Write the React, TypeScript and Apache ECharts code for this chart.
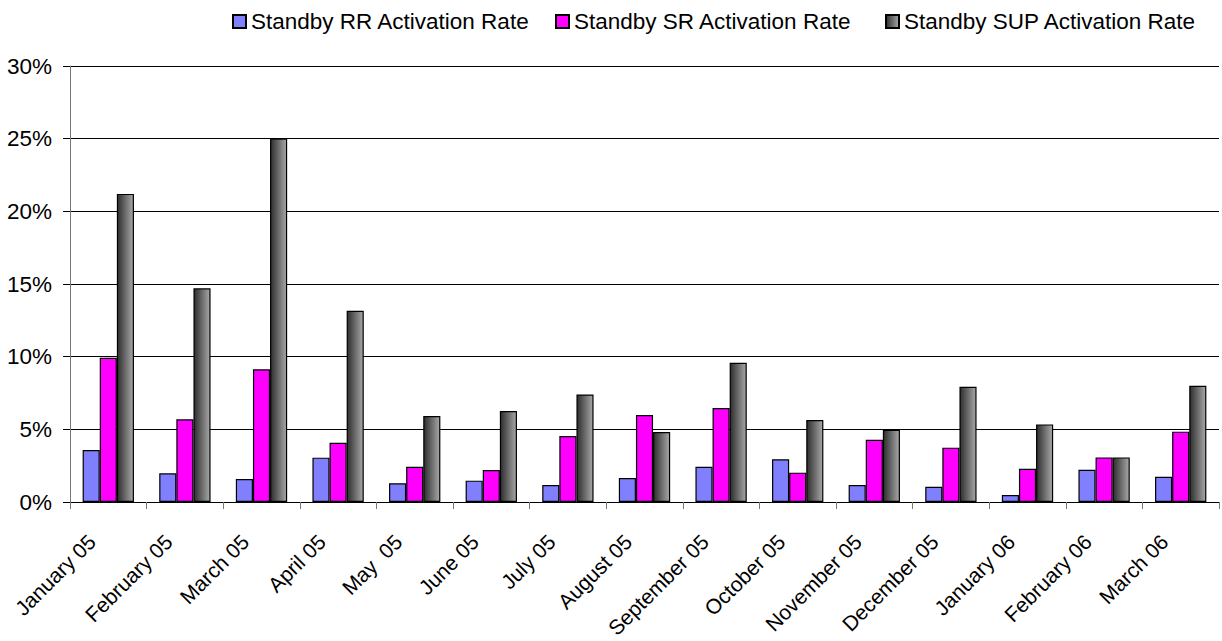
import React, { useEffect, useRef } from "react";
import * as echarts from "echarts";

const categories = [
  "January 05", "February 05", "March 05", "April 05", "May  05", "June 05", "July 05",
  "August 05", "September 05", "October 05", "November 05", "December 05",
  "January 06", "February 06", "March 06",
];
const rrRate = [3.58, 1.97, 1.58, 3.05, 1.29, 1.47, 1.17, 1.65, 2.43, 2.94, 1.17, 1.05, 0.48, 2.22, 1.74];
const srRate = [9.93, 5.69, 9.13, 4.08, 2.43, 2.2, 4.54, 5.98, 6.47, 2.02, 4.28, 3.74, 2.29, 3.07, 4.84];
const supRate = [21.2, 14.7, 25.0, 13.16, 5.92, 6.26, 7.4, 4.81, 9.58, 5.64, 4.97, 7.93, 5.34, 3.07, 8.0];
const seriesNames = [
  "Standby RR Activation Rate",
  "Standby SR Activation Rate",
  "Standby SUP Activation Rate",
];
const legendLefts = [227, 550, 880];

const FONT = "'Liberation Sans', Arial, sans-serif";

export default function App() {
  const ref = useRef<HTMLDivElement>(null);
  useEffect(() => {
    if (!ref.current) return;
    const chart = echarts.init(ref.current, null, { renderer: "svg" });
    const border = { borderColor: "#000", borderWidth: 1.2 };
    chart.setOption({
      animation: false,
      backgroundColor: "#fff",
      textStyle: { fontFamily: FONT },
      legend: seriesNames.map((name, i) => ({
        left: legendLefts[i],
        top: 5,
        itemWidth: 13,
        itemHeight: 13,
        icon: "rect",
        textStyle: { fontFamily: FONT, fontSize: 22.5, color: "#000" },
        data: [name],
      })),
      grid: {
        left: 70,
        right: 3,
        top: 66,
        bottom: 139,
        containLabel: false,
        outerBoundsMode: "none",
      },
      xAxis: {
        type: "category",
        data: categories,
        axisLine: { lineStyle: { color: "#000", width: 1 } },
        axisTick: { show: true, length: 7, lineStyle: { color: "#777" } },
        axisLabel: {
          rotate: 45,
          interval: 0,
          margin: 20,
          fontSize: 21,
          color: "#000",
          fontFamily: FONT,
          padding: [0, 23, 0, 0],
        },
      },
      yAxis: {
        type: "value",
        min: 0,
        max: 30,
        interval: 5,
        axisLine: { show: true, lineStyle: { color: "#777", width: 1 } },
        axisTick: { show: true, length: 7, lineStyle: { color: "#000" } },
        axisLabel: {
          formatter: "{value}%",
          margin: 18,
          fontSize: 22.5,
          color: "#000",
          fontFamily: FONT,
        },
        splitLine: { lineStyle: { color: "#000", width: 1 } },
      },
      series: [
        {
          name: seriesNames[0],
          type: "bar",
          data: rrRate,
          barGap: "0%",
          barCategoryGap: "33%",
          itemStyle: { color: "#8080FF", ...border },
        },
        {
          name: seriesNames[1],
          type: "bar",
          data: srRate,
          barGap: "0%",
          barCategoryGap: "33%",
          itemStyle: { color: "#FF00FF", ...border },
        },
        {
          name: seriesNames[2],
          type: "bar",
          data: supRate,
          barGap: "0%",
          barCategoryGap: "33%",
          itemStyle: {
            color: new echarts.graphic.LinearGradient(0, 0, 1, 0, [
              { offset: 0, color: "#2e2e2e" },
              { offset: 1, color: "#a8a8a8" },
            ]),
            ...border,
          },
        },
      ],
    });
    return () => chart.dispose();
  }, []);
  return (
    <div
      ref={ref}
      style={{ position: "fixed", left: 0, top: 0, width: 1222, height: 641, background: "#fff" }}
    />
  );
}
